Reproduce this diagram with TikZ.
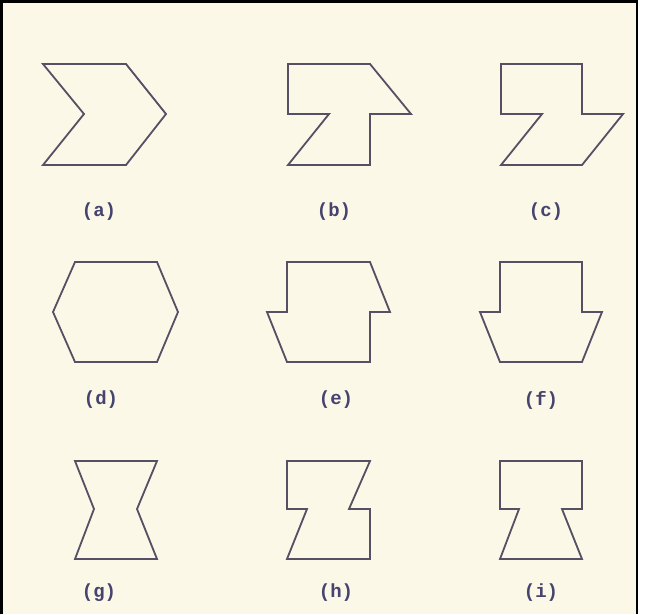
\documentclass[tikz,border=0pt]{standalone}
\usepackage{fontspec}
\setmonofont{Liberation Mono}
\usepackage{xcolor}
\usepackage{tikz}
\definecolor{paper}{RGB}{251,248,232}
\definecolor{edge}{RGB}{85,80,100}
\definecolor{labelink}{RGB}{70,68,110}
\tikzset{
  outline/.style={draw=edge, line width=1.8pt, line join=miter},
  caption/.style={font=\ttfamily\bfseries\fontsize{19}{19}\selectfont, text=labelink, inner sep=0pt},
}

\begin{document}
\begin{tikzpicture}[x=1pt, y=-1pt]
  \useasboundingbox (0,0) rectangle (647,614);
  % paper and frame
  \fill[paper] (0,0) rectangle (638,614);
  \draw[line width=2.5pt] (1.25,614) -- (1.25,1.25) -- (637,1.25) -- (637,614);
  % row 1
  \draw[outline] (43,64) -- (126,64) -- (166,114) -- (126,165) -- (43,165) -- (84,114) -- cycle;
  \draw[outline] (288,64) -- (370,64) -- (411,114) -- (370,114) -- (370,165) -- (288,165) -- (329,114) -- (288,114) -- cycle;
  \draw[outline] (501,64) -- (582,64) -- (582,114) -- (623,114) -- (582,165) -- (501,165) -- (542,114) -- (501,114) -- cycle;
  \node[caption] (capa) at (99,212) {(a)};
  \node[caption] (capb) at (334,212) {(b)};
  \node[caption] (capc) at (546,212) {(c)};
  % row 2
  \draw[outline] (75,262) -- (157,262) -- (178,312) -- (157,362) -- (75,362) -- (53,312) -- cycle;
  \draw[outline] (287,262) -- (370,262) -- (390,312) -- (370,312) -- (370,362) -- (287,362) -- (267,312) -- (287,312) -- cycle;
  \draw[outline] (500,262) -- (582,262) -- (582,312) -- (602,312) -- (582,362) -- (500,362) -- (480,312) -- (500,312) -- cycle;
  \node[caption] (capd) at (101,400) {(d)};
  \node[caption] (cape) at (336,400) {(e)};
  \node[caption] (capf) at (541,400) {(f)};
  % row 3
  \draw[outline] (75,461) -- (157,461) -- (137,509) -- (157,559) -- (75,559) -- (94,509) -- cycle;
  \draw[outline] (287,461) -- (370,461) -- (349,509) -- (370,509) -- (370,559) -- (287,559) -- (307,509) -- (287,509) -- cycle;
  \draw[outline] (500,461) -- (582,461) -- (582,509) -- (562,509) -- (582,559) -- (500,559) -- (519,509) -- (500,509) -- cycle;
  \node[caption] (capg) at (99,593) {(g)};
  \node[caption] (caph) at (336,593) {(h)};
  \node[caption] (capi) at (541,593) {(i)};
\end{tikzpicture}
\end{document}
